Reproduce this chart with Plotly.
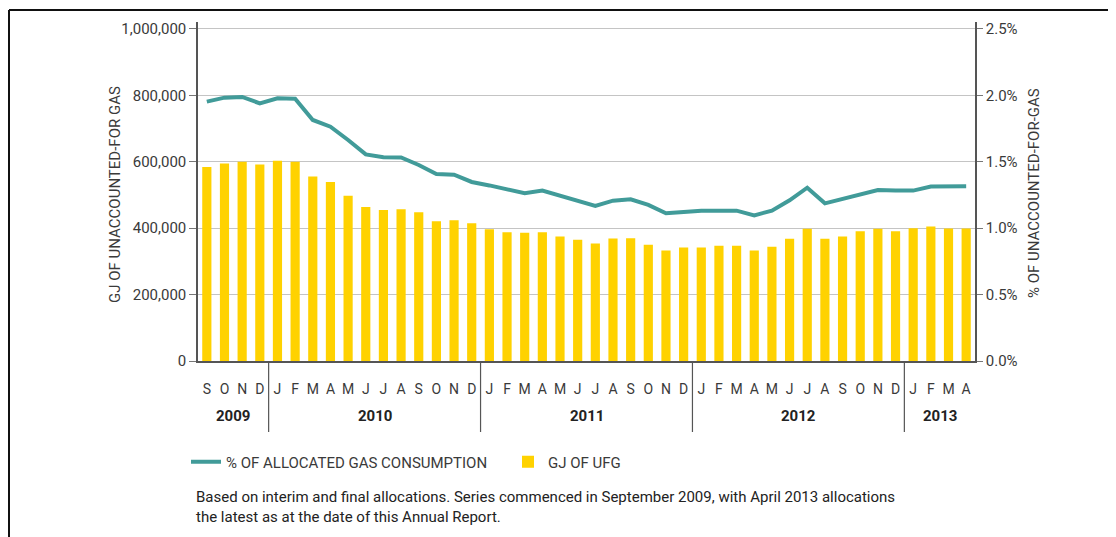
import plotly.graph_objects as go

periods = ["Sep 2009", "Oct 2009", "Nov 2009", "Dec 2009",
           "Jan 2010", "Feb 2010", "Mar 2010", "Apr 2010", "May 2010", "Jun 2010",
           "Jul 2010", "Aug 2010", "Sep 2010", "Oct 2010", "Nov 2010", "Dec 2010",
           "Jan 2011", "Feb 2011", "Mar 2011", "Apr 2011", "May 2011", "Jun 2011",
           "Jul 2011", "Aug 2011", "Sep 2011", "Oct 2011", "Nov 2011", "Dec 2011",
           "Jan 2012", "Feb 2012", "Mar 2012", "Apr 2012", "May 2012", "Jun 2012",
           "Jul 2012", "Aug 2012", "Sep 2012", "Oct 2012", "Nov 2012", "Dec 2012",
           "Jan 2013", "Feb 2013", "Mar 2013", "Apr 2013"]
month_letters = [p[0] for p in periods]

ufg_gj = [584000, 595000, 600000, 592000,
          603000, 600000, 556000, 539000, 498000, 464000, 455000, 457000, 448000, 421000, 424000, 415000,
          397000, 388000, 386000, 388000, 375000, 365000, 354000, 369000, 370000, 350000, 333000, 342000,
          342000, 347000, 347000, 333000, 344000, 368000, 398000, 368000, 375000, 391000, 398000, 391000,
          400000, 405000, 399000, 399000]

ufg_pct = [1.953, 1.983, 1.988, 1.940,
           1.978, 1.975, 1.815, 1.764, 1.664, 1.556, 1.534, 1.532, 1.476, 1.408, 1.403, 1.348,
           1.322, 1.293, 1.263, 1.283, 1.242, 1.205, 1.167, 1.207, 1.217, 1.175, 1.112, 1.122,
           1.132, 1.132, 1.132, 1.097, 1.132, 1.210, 1.305, 1.187, 1.220, 1.255, 1.288, 1.283,
           1.283, 1.313, 1.315, 1.315]

years = ["2009", "2010", "2011", "2012", "2013"]

left_ticks = [0, 200000, 400000, 600000, 800000, 1000000]
left_ticktext = ["0", "200,000", "400,000", "600,000", "800,000", "1,000,000"]
right_ticks = [0, 0.5, 1.0, 1.5, 2.0, 2.5]
right_ticktext = ["0.0%", "0.5%", "1.0%", "1.5%", "2.0%", "2.5%"]

TEAL = "#419b99"
YELLOW = "#ffd200"
FONT = "Roboto"
TXT = "#3a3a3a"

fig = go.Figure()
fig.add_trace(go.Scatter(x=periods, y=ufg_pct, name="% OF ALLOCATED GAS CONSUMPTION",
                         mode="lines", line=dict(color=TEAL, width=4), yaxis="y2"))
fig.add_trace(go.Bar(x=periods, y=ufg_gj, name="GJ OF UFG", marker=dict(color=YELLOW, line=dict(width=0)),
                     width=0.52, yaxis="y"))

# page is offset by the browser's default 8px body margin
OFF = 8
W, H = 1116, 537
PL, PR, PT, PB = 198, 975, 22, 361   # plot area in page pixels
L, R, T, B = PL - OFF, W + OFF - PR, PT - OFF, H + OFF - PB
pw, ph = PR - PL, PB - PT

def px_x(x):
    return (x - PL) / pw

def px_y(y):
    return (PB - y) / ph

fig.update_layout(
    width=W, height=H,
    margin=dict(l=L, r=R, t=T, b=B),
    paper_bgcolor="white", plot_bgcolor="white",
    font=dict(family=FONT, color=TXT, size=15),
    showlegend=True,
    legend=dict(orientation="h", x=px_x(186), y=px_y(462), yanchor="middle", xanchor="left",
                font=dict(size=15, color=TXT, family=FONT), entrywidth=277, itemwidth=30,
                bgcolor="rgba(0,0,0,0)"),
    xaxis=dict(type="category", tickmode="array", tickvals=periods, ticktext=month_letters,
               ticks="", showgrid=False, showline=True, linecolor="#555", linewidth=1.5,
               tickfont=dict(size=14, color=TXT), ticklabelstandoff=14, range=[-0.5, len(periods) - 0.5]),
    yaxis=dict(range=[0, 1021000], tickmode="array", tickvals=left_ticks, ticktext=left_ticktext,
               showgrid=True, gridcolor="#c4c4c4", gridwidth=1, showline=True, linecolor="#555", linewidth=1.5,
               ticks="outside", ticklen=7, tickcolor="#777", tickfont=dict(size=15, color=TXT),
               zeroline=False),
    yaxis2=dict(range=[0, 2.5525], overlaying="y", side="right", tickmode="array", tickvals=right_ticks,
                ticktext=right_ticktext, showgrid=False, showline=True, linecolor="#555", linewidth=1.5,
                ticks="outside", ticklen=6, tickcolor="#777", tickfont=dict(size=15, color=TXT),
                zeroline=False),
)

# Year separators and year labels
starts = [0]
for i in range(1, len(periods)):
    if periods[i][-4:] != periods[i - 1][-4:]:
        starts.append(i)
ends = starts[1:] + [len(periods)]
for s in starts[1:]:
    fig.add_shape(type="line", xref="x", yref="paper", x0=s - 0.5, x1=s - 0.5,
                  y0=0, y1=px_y(432), line=dict(color="#555", width=1.2))
for yr, s, e in zip(years, starts, ends):
    fig.add_annotation(x=(s + e - 1) / 2, xref="x", yref="paper", y=px_y(416), xanchor="center",
                       yanchor="middle", text="<b>%s</b>" % yr, showarrow=False,
                       font=dict(size=15, color="#222", family=FONT))

# Axis titles
fig.add_annotation(xref="paper", yref="paper", x=px_x(115), y=px_y(195), xanchor="center", yanchor="middle",
                   text="GJ OF UNACCOUNTED-FOR GAS",
                   textangle=-90, showarrow=False, font=dict(size=15, color=TXT, family=FONT))
fig.add_annotation(xref="paper", yref="paper", x=px_x(1034), y=px_y(193), xanchor="center", yanchor="middle",
                   text="% OF UNACCOUNTED-FOR-GAS",
                   textangle=-90, showarrow=False, font=dict(size=15, color=TXT, family=FONT))

# Footnote
fig.add_annotation(xref="paper", yref="paper", x=px_x(194), y=px_y(486), xanchor="left", yanchor="top",
                   align="left", showarrow=False,
                   text="Based on interim and final allocations. Series commenced in September 2009, with April 2013 allocations"
                        "<br>the latest as at the date of this Annual Report.",
                   font=dict(size=15, color="#222", family=FONT))

# Frame
fig.add_shape(type="line", xref="paper", yref="paper", x0=px_x(9), x1=px_x(9), y0=px_y(10), y1=px_y(560),
              line=dict(color="#111", width=2))
fig.add_shape(type="line", xref="paper", yref="paper", x0=px_x(9), x1=px_x(1130), y0=px_y(10), y1=px_y(10),
              line=dict(color="#111", width=2))

fig.write_html("out.html")
